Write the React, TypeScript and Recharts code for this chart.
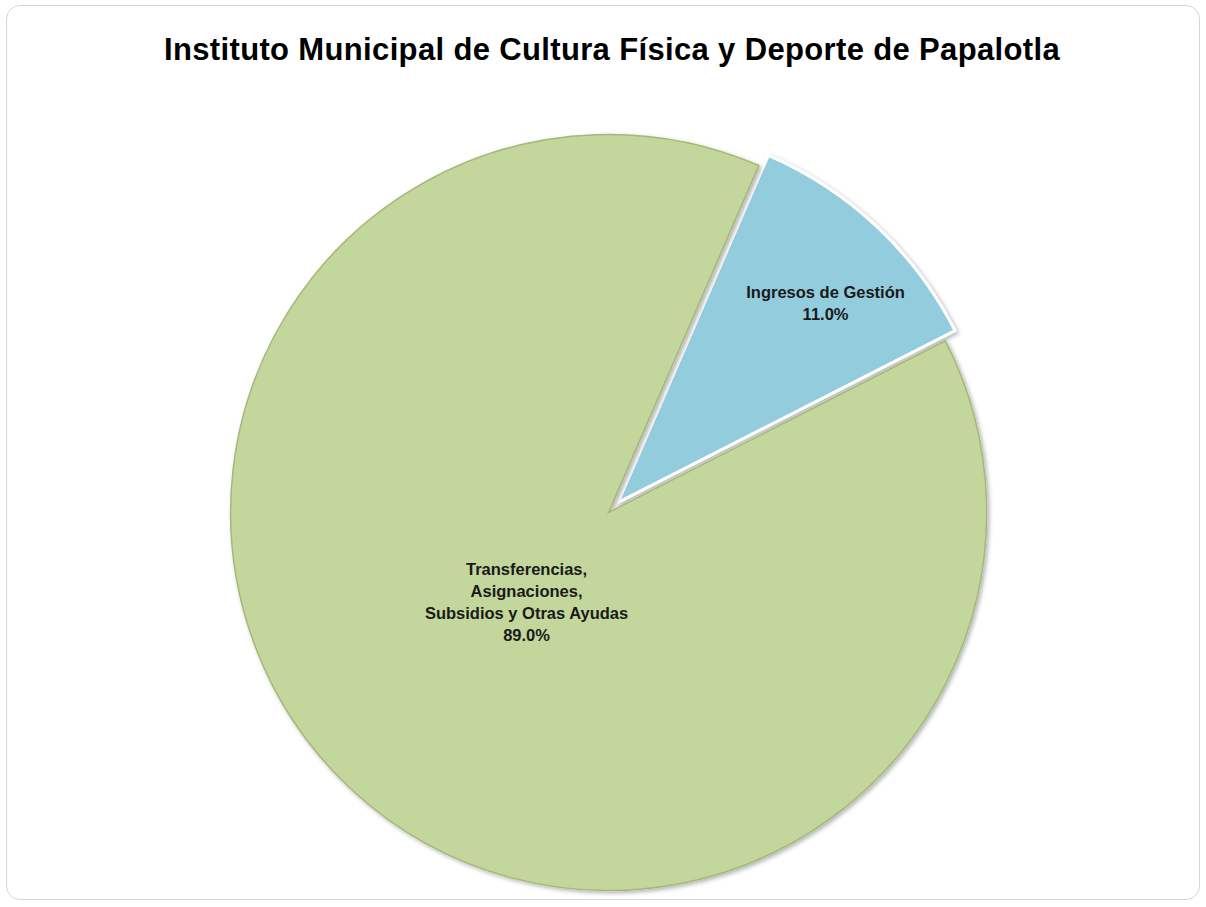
import { PieChart, Pie, Cell, Sector } from "recharts";

const categories = [
  "Ingresos de Gestión",
  "Transferencias, Asignaciones, Subsidios y Otras Ayudas",
];
const labelLines = [
  ["Ingresos de Gestión"],
  ["Transferencias,", "Asignaciones,", "Subsidios y Otras Ayudas"],
];
const shares = [11.0, 89.0];
const colors = ["#93cddd", "#c3d69b"];

const title = "Instituto Municipal de Cultura Física y Deporte de Papalotla";

const data = categories.map((name, i) => ({
  name,
  value: shares[i],
  lines: labelLines[i],
}));

const RADIAN = Math.PI / 180;
// pull-out per slice (px), label distance (fraction of radius) and angle nudge (deg)
const explode = [12, 2];
const labelDist = [0.76, 0.322];
const labelTurn = [-3.0, 0.8];

function ExplodedSector(props: any) {
  const idx = props.index ?? data.findIndex((d) => d.name === props.name);
  const off = explode[idx] ?? 0;
  const dx = Math.cos(-props.midAngle * RADIAN) * off;
  const dy = Math.sin(-props.midAngle * RADIAN) * off;
  return (
    <Sector
      {...props}
      cx={props.cx + dx}
      cy={props.cy + dy}
      fill={colors[idx]}
      stroke={idx === 0 ? "#ffffff" : "#a3b978"}
      strokeWidth={idx === 0 ? 3 : 1.5}
      filter="url(#sliceShadow)"
    />
  );
}

function renderLabel(props: any) {
  const { cx, cy, midAngle, outerRadius, index, percent } = props;
  const off = explode[index];
  const sx = cx + Math.cos(-midAngle * RADIAN) * off;
  const sy = cy + Math.sin(-midAngle * RADIAN) * off;
  const a = (midAngle + labelTurn[index]) * RADIAN;
  const r = outerRadius * labelDist[index];
  const x = sx + Math.cos(-a) * r;
  const y = sy + Math.sin(-a) * r;
  const lines = [...data[index].lines, `${(percent * 100).toFixed(1)}%`];
  const lh = 22;
  const y0 = y - ((lines.length - 1) * lh) / 2;
  return (
    <text
      x={x}
      y={y0}
      textAnchor="middle"
      dominantBaseline="central"
      fontFamily="'Liberation Sans', Arial, sans-serif"
      fontWeight="bold"
      fontSize={16.5}
      fill="#1a1a1a"
    >
      {lines.map((l, i) => (
        <tspan key={i} x={x} y={y0 + i * lh}>
          {l}
        </tspan>
      ))}
    </text>
  );
}

export default function App() {
  return (
    <div
      style={{
        position: "absolute",
        left: 0,
        top: 0,
        width: 1206,
        height: 907,
        background: "#ffffff",
      }}
    >
      <svg width={0} height={0} style={{ position: "absolute" }}>
        <defs>
          <filter id="sliceShadow" x="-10%" y="-10%" width="120%" height="120%">
            <feDropShadow dx="2" dy="2" stdDeviation="2" floodColor="#000" floodOpacity="0.3" />
          </filter>
        </defs>
      </svg>
      <div
        style={{
          position: "absolute",
          left: 6,
          top: 5,
          width: 1194,
          height: 895,
          border: "1px solid #d6d6d6",
          borderRadius: 14,
          boxSizing: "border-box",
        }}
      />
      <div
        style={{
          position: "absolute",
          left: 17,
          top: 32,
          width: 1190,
          textAlign: "center",
          fontFamily: "'Liberation Sans', Arial, sans-serif",
          fontWeight: "bold",
          fontSize: 31,
          color: "#000",
          letterSpacing: 0.35,
          whiteSpace: "nowrap",
        }}
      >
        {title}
      </div>
      <div style={{ position: "absolute", left: 0, top: 0 }}>
        <PieChart width={1206} height={907}>
          <Pie
            data={data}
            dataKey="value"
            nameKey="name"
            cx={605}
            cy={506}
            outerRadius={378}
            startAngle={66.6}
            endAngle={-293.4}
            isAnimationActive={false}
            shape={ExplodedSector}
            label={renderLabel}
            labelLine={false}
            stroke="none"
          >
            {data.map((d, i) => (
              <Cell key={d.name} fill={colors[i]} />
            ))}
          </Pie>
        </PieChart>
      </div>
    </div>
  );
}
